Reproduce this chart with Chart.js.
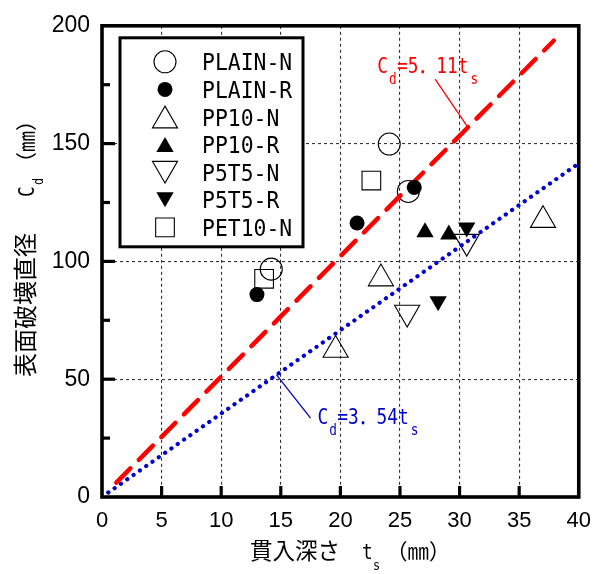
<!DOCTYPE html>
<html><head><meta charset="utf-8">
<script src="https://cdn.jsdelivr.net/npm/chart.js@4.4.0/dist/chart.umd.min.js"></script>
<style>html,body{margin:0;padding:0;background:#fff}#wrap{width:602px;height:574px}</style>
</head><body><div id="wrap"><canvas id="c" width="602" height="574"></canvas></div>
<script>
// ---- data ----
const plainN_x=[14.2,24.1,25.7],  plainN_y=[96.7,149.8,129.7];
const plainR_x=[13.0,21.4,26.2],  plainR_y=[85.9,116.3,131.4];
const pp10N_x=[19.6,23.4,37.0],   pp10N_y=[62.4,92.7,117.5];
const pp10R_x=[27.1,29.1],        pp10R_y=[112.4,111.4];
const p5t5N_x=[25.6,30.6],        p5t5N_y=[78.3,108.4];
const p5t5R_x=[28.2,30.6],        p5t5R_y=[83.1,114.4];
const pet10N_x=[13.6,22.6],       pet10N_y=[92.6,134.3];
const fitRed_x=[1.2,37.9], fitRed_slope=5.11;
const fitBlue_x=[0,40],    fitBlue_slope=3.54;
const xTicks=[0,5,10,15,20,25,30,35,40];
const yTicks=[0,50,100,150,200];
const seriesNames=['PLAIN-N','PLAIN-R','PP10-N','PP10-R','P5T5-N','P5T5-R','PET10-N'];

const pts=(xs,ys)=>xs.map((x,i)=>({x:x,y:ys[i]}));
const fit=(xs,k)=>xs.map(x=>({x:x,y:k*x}));

const styles=[
 {pointStyle:'circle',radius:11,fill:false,rot:0},
 {pointStyle:'circle',radius:7.5,fill:true,rot:0},
 {pointStyle:'triangle',radius:14.5,fill:false,rot:0},
 {pointStyle:'triangle',radius:10,fill:true,rot:0},
 {pointStyle:'triangle',radius:14.5,fill:false,rot:180},
 {pointStyle:'triangle',radius:10,fill:true,rot:180},
 {pointStyle:'rect',radius:13.2,fill:false,rot:0}
];
const seriesData=[pts(plainN_x,plainN_y),pts(plainR_x,plainR_y),pts(pp10N_x,pp10N_y),pts(pp10R_x,pp10R_y),pts(p5t5N_x,p5t5N_y),pts(p5t5R_x,p5t5R_y),pts(pet10N_x,pet10N_y)];

const datasets=[];
seriesNames.forEach((n,i)=>{
  const s=styles[i];
  datasets.push({label:n,data:seriesData[i],showLine:false,
    pointStyle:s.pointStyle,pointRadius:s.radius,pointHoverRadius:s.radius,pointRotation:s.rot,
    pointBackgroundColor:s.fill?'#000':'rgba(0,0,0,0)',pointBorderColor:'#000',pointBorderWidth:s.fill?0:1.1,
    order:s.fill?0:2});
});
datasets.push({label:'Cd=5.11ts',data:fit(fitRed_x,fitRed_slope),showLine:true,pointRadius:0,borderColor:'#ff0000',borderWidth:4.5,borderDash:[20,12],borderCapStyle:'round',order:1});
datasets.push({label:'Cd=3.54ts',data:fit(fitBlue_x,fitBlue_slope),showLine:true,pointRadius:0,borderColor:'#0000d0',borderWidth:4.2,borderDash:[0.1,7.6],borderCapStyle:'round',order:1});

function txt(ctx,s,x,y,font,sx,color){
  ctx.save();ctx.font=font;ctx.fillStyle=color||'#000';ctx.textBaseline='alphabetic';ctx.textAlign='left';
  ctx.translate(x,y);ctx.scale(sx,1);ctx.fillText(s,0,0);
  const w=ctx.measureText(s).width*sx;ctx.restore();return w;
}
const MONO='"DejaVu Sans Mono","Noto Sans CJK JP"';
const CJK='"Noto Sans CJK JP"';

const decor={
  id:'decor',
  afterDatasetsDraw(chart){
    const ctx=chart.ctx,a=chart.chartArea,xs=chart.scales.x,ys=chart.scales.y;
    ctx.save();
    ctx.strokeStyle='#000';ctx.lineWidth=3.6;ctx.lineCap='butt';
    ctx.strokeRect(a.left,a.top,a.right-a.left,a.bottom-a.top);
    ctx.lineWidth=3.2;
    for(let v=5;v<40;v+=5){const p=xs.getPixelForValue(v);ctx.beginPath();ctx.moveTo(p,a.bottom);ctx.lineTo(p,a.bottom-11);ctx.stroke();}
    for(let v=25;v<200;v+=25){const p=ys.getPixelForValue(v);const L=(v%50===0)?13:8;ctx.beginPath();ctx.moveTo(a.left,p);ctx.lineTo(a.left+L,p);ctx.stroke();}
    // legend
    const lx=a.left+18,ly=a.top+12,lw=183,lh=209;
    ctx.fillStyle='#fff';ctx.fillRect(lx,ly,lw,lh);
    ctx.lineWidth=3;ctx.strokeRect(lx,ly,lw,lh);
    seriesNames.forEach((n,i)=>{
      const s=styles[i];const cy=ly+24+i*27.6;
      ctx.save();
      ctx.fillStyle=s.fill?'#000':'rgba(0,0,0,0)';ctx.strokeStyle='#000';ctx.lineWidth=s.fill?0:1.1;
      Chart.helpers.drawPoint(ctx,{pointStyle:s.pointStyle,radius:s.radius,rotation:s.rot,borderWidth:s.fill?0:1.1},lx+45,cy+(s.pointStyle==='triangle'?(s.rot?-s.radius/4:s.radius/4):0));
      ctx.restore();
      txt(ctx,n,lx+82,cy+8.5,'23px '+MONO,0.93,'#000');
    });
    // red annotation
    let rx=xs.getPixelForValue(23.1),ry=ys.getPixelForValue(179.9);
    let w=txt(ctx,'C',rx,ry,'22px '+MONO,0.81,'#ff0000');
    txt(ctx,'d',rx+w+1,ry+11,'15px '+MONO,0.85,'#ff0000');
    w+=txt(ctx,'=5．11t',rx+w+9,ry,'22px '+MONO,0.81,'#ff0000')+9;
    txt(ctx,'s',rx+w+2,ry+11,'15px '+MONO,0.85,'#ff0000');
    ctx.strokeStyle='#ff0000';ctx.lineWidth=1.3;ctx.beginPath();
    ctx.moveTo(xs.getPixelForValue(27.95),ys.getPixelForValue(177.4));
    ctx.lineTo(xs.getPixelForValue(30.7),ys.getPixelForValue(30.7*fitRed_slope));ctx.stroke();
    // blue annotation
    rx=xs.getPixelForValue(18.08);ry=ys.getPixelForValue(31.0);
    w=txt(ctx,'C',rx,ry,'22px '+MONO,0.81,'#0000d0');
    txt(ctx,'d',rx+w+1,ry+11,'15px '+MONO,0.85,'#0000d0');
    w+=txt(ctx,'=3．54t',rx+w+9,ry,'22px '+MONO,0.81,'#0000d0')+9;
    txt(ctx,'s',rx+w+2,ry+11,'15px '+MONO,0.85,'#0000d0');
    ctx.strokeStyle='#0000d0';ctx.lineWidth=1.3;ctx.beginPath();
    ctx.moveTo(xs.getPixelForValue(14.64),ys.getPixelForValue(14.64*fitBlue_slope));
    ctx.lineTo(xs.getPixelForValue(17.5),ys.getPixelForValue(33.5));ctx.stroke();
    // x title
    let tx=250,tyb=559;
    let ww=txt(ctx,'貫入深さ',tx,tyb,'22.5px '+CJK,1,'#000');
    txt(ctx,'t',tx+ww+22,tyb,'22px '+MONO,0.81,'#000');
    txt(ctx,'s',tx+ww+33,tyb+11,'14px '+MONO,0.85,'#000');
    txt(ctx,'（㎜）',tx+ww+46,tyb,'21.5px '+CJK,1,'#000');
    // y title
    ctx.save();ctx.translate(34,377);ctx.rotate(-Math.PI/2);
    ww=txt(ctx,'表面破壊直径',0,0,'24px '+CJK,1,'#000');
    txt(ctx,'C',ww+36,0,'22px '+MONO,0.81,'#000');
    txt(ctx,'d',ww+48,9,'14px '+MONO,0.85,'#000');
    txt(ctx,'（㎜）',ww+60,0,'21px '+CJK,1,'#000');
    ctx.restore();
    ctx.restore();
  }
};

new Chart(document.getElementById('c'),{
  type:'scatter',
  data:{datasets:datasets},
  options:{
    responsive:false,animation:false,events:[],
    layout:{padding:{top:19,right:22,left:0,bottom:0}},
    plugins:{legend:{display:false},tooltip:{enabled:false}},
    scales:{
      x:{type:'linear',min:0,max:40,
        afterFit(s){s.height=77;},
        afterBuildTicks(s){s.ticks=xTicks.map(v=>({value:v}));},
        ticks:{padding:11,color:'#000',font:{family:'"Liberation Sans"',size:22},maxRotation:0,autoSkip:false},
        grid:{drawTicks:false,lineWidth:1.1,color:c=>(c.tick&&c.tick.value>0&&c.tick.value<40)?'#333':'rgba(0,0,0,0)'},
        border:{display:false,dash:[3,3]}},
      y:{type:'linear',min:0,max:200,
        afterFit(s){s.width=102;},
        afterBuildTicks(s){s.ticks=yTicks.map(v=>({value:v}));},
        ticks:{padding:12,color:'#000',font:{family:'"Liberation Sans"',size:23},autoSkip:false},
        grid:{drawTicks:false,lineWidth:1.1,color:c=>(c.tick&&c.tick.value>0&&c.tick.value<200)?'#333':'rgba(0,0,0,0)'},
        border:{display:false,dash:[3,3]}}
    }
  },
  plugins:[decor]
});
</script></body></html>
